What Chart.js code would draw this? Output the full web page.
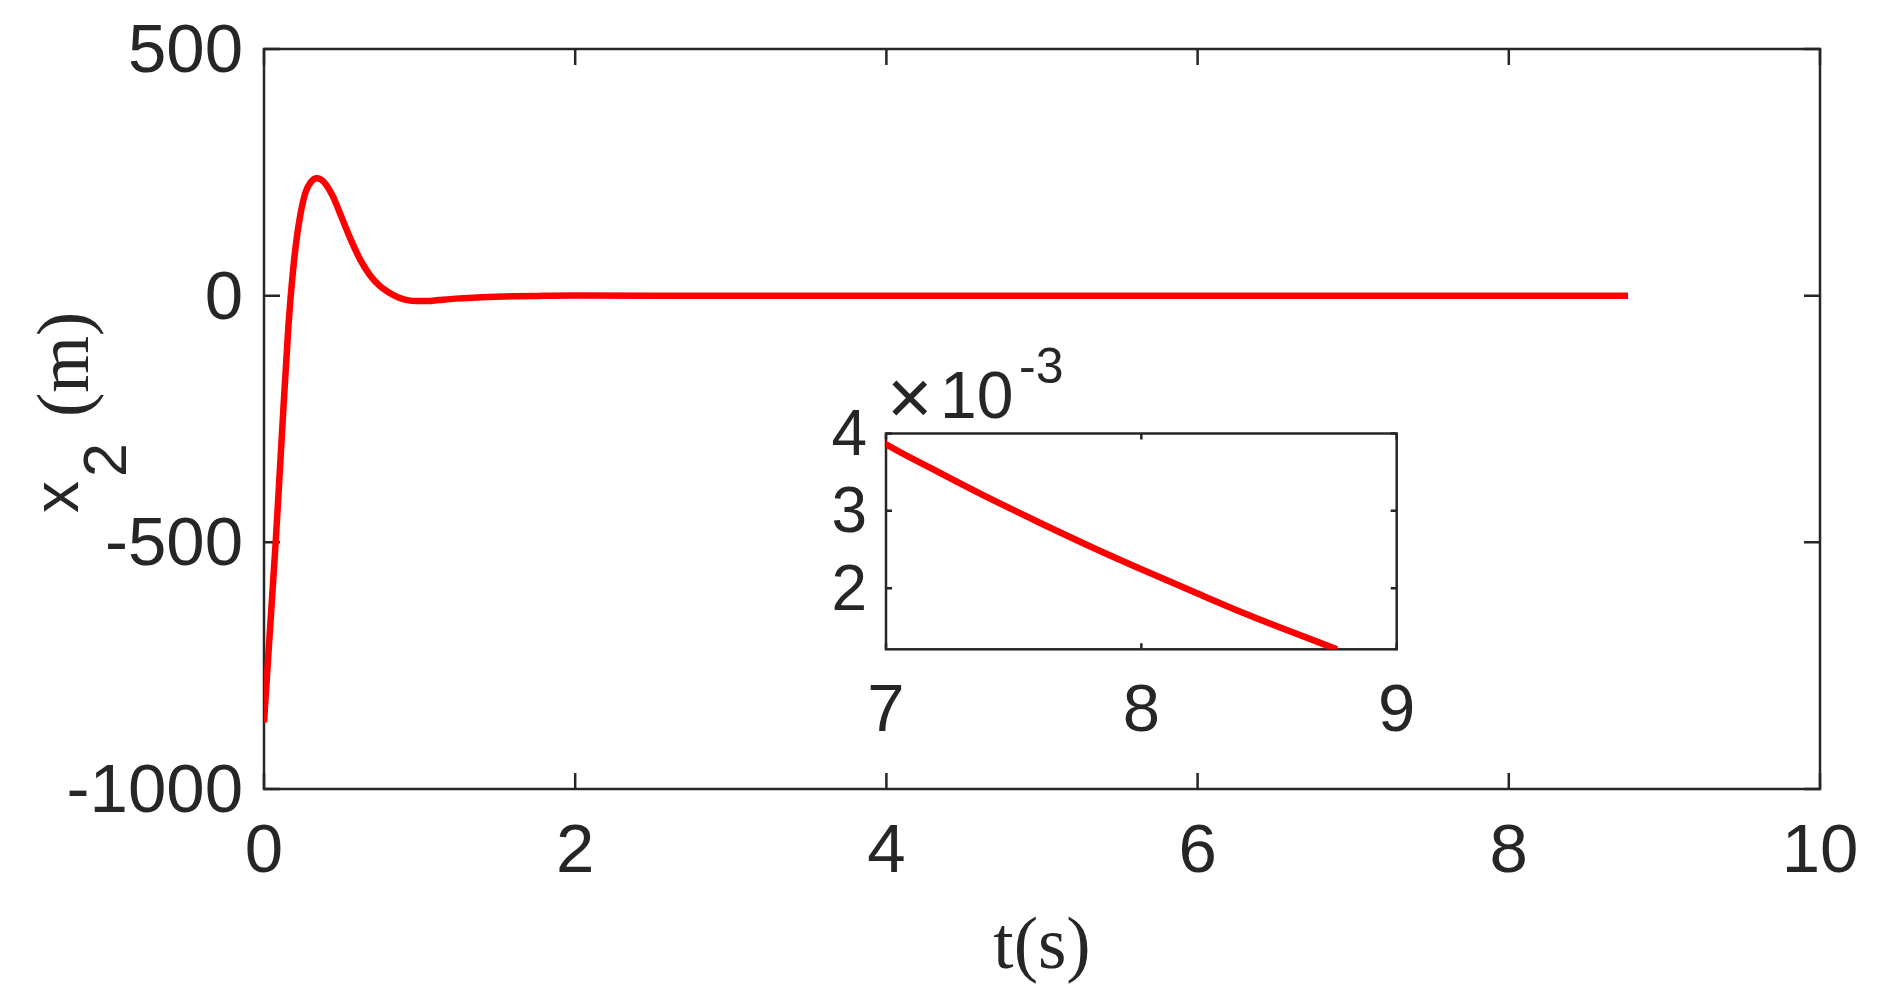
<!DOCTYPE html>
<html>
<head>
<meta charset="utf-8">
<script src="https://cdn.jsdelivr.net/npm/chart.js@4/dist/chart.umd.min.js"></script>
<style>
  html, body { margin: 0; padding: 0; background: #ffffff; overflow: hidden; width: 1888px; height: 1008px; }
  #main { position: absolute; left: 0; top: 0; }
  #inset { position: absolute; left: 760px; top: 330px; }
</style>
</head>
<body>
<canvas id="main" width="1888" height="1008"></canvas>
<canvas id="inset" width="680" height="430"></canvas>
<script>
// ---------------- data ----------------
const timeSeconds = [0, 0.049, 0.075, 0.114, 0.156, 0.188, 0.221, 0.264, 0.30, 0.339, 0.38, 0.44, 0.50, 0.56, 0.62, 0.68, 0.74, 0.80, 0.86, 0.92, 0.98, 1.05, 1.12, 1.23, 1.40, 1.60, 1.80, 2.0, 3.0, 4.0, 5.0, 6.0, 7.0, 7.2, 7.4, 7.6, 7.8, 8.0, 8.2, 8.4, 8.6, 8.766];
const x2Meters    = [-865, -625, -500, -287, -66, 55, 140, 207, 230, 238, 232, 203, 158, 112, 72, 42, 21, 7, -3, -9, -11, -11, -9, -6, -3, -1.2, -0.4, 0.1, 0.03, 0.015, 0.009, 0.006, 0.00386, 0.00351, 0.00317, 0.00285, 0.00254, 0.002245, 0.00196, 0.00168, 0.00142, 0.00121];

const mainXTicks = [0, 2, 4, 6, 8, 10];
const mainXTickLabels = ['0', '2', '4', '6', '8', '10'];
const mainYTicks = [-1000, -500, 0, 500];
const mainYTickLabels = ['-1000', '-500', '0', '500'];
const insetXTicks = [7, 8, 9];
const insetXTickLabels = ['7', '8', '9'];
const insetYTicks = [0.002, 0.003, 0.004];
const insetYTickLabels = ['2', '3', '4'];
const insetExponent = ['\u00D7', '10', '-3'];
const xTitleText = 't(s)';
const yTitleParts = ['x', '2', '(m)'];

// ---------------- styling ----------------
const INK = '#262626';
const SANS = '"Liberation Sans", Arial, Helvetica, sans-serif';
const SERIF = '"Liberation Serif", "Times New Roman", Times, serif';

const points = timeSeconds.map((t, i) => ({ x: t, y: x2Meters[i] }));

const framePlugin = {
  id: 'frame',
  beforeDatasetsDraw(chart, args, o) {
    const { ctx, chartArea: a } = chart;
    const xs = chart.scales.x, ys = chart.scales.y;
    ctx.save();
    ctx.strokeStyle = o.color;
    ctx.lineWidth = o.width;
    ctx.beginPath();
    xs.ticks.forEach(t => {
      const p = xs.getPixelForValue(t.value);
      ctx.moveTo(p, a.bottom); ctx.lineTo(p, a.bottom - o.tick);
      ctx.moveTo(p, a.top); ctx.lineTo(p, a.top + o.tick);
    });
    ys.ticks.forEach(t => {
      const p = ys.getPixelForValue(t.value);
      ctx.moveTo(a.left, p); ctx.lineTo(a.left + o.tick, p);
      ctx.moveTo(a.right, p); ctx.lineTo(a.right - o.tick, p);
    });
    ctx.stroke();
    ctx.strokeRect(a.left, a.top, a.right - a.left, a.bottom - a.top);
    ctx.restore();
  }
};

const yTitlePlugin = {
  id: 'ytitle',
  afterDraw(chart) {
    const ctx = chart.ctx;
    ctx.save();
    ctx.fillStyle = INK;
    ctx.textBaseline = 'alphabetic';
    ctx.textAlign = 'left';
    ctx.translate(78, 513);
    ctx.rotate(-Math.PI / 2);
    ctx.font = '64px ' + SANS;
    ctx.fillText(yTitleParts[0], 0, 0);
    ctx.font = '61px ' + SANS;
    ctx.fillText(yTitleParts[1], 36, 48);
    ctx.font = '73px ' + SERIF;
    ctx.fillText(yTitleParts[2], 96, 10);
    ctx.restore();
  }
};

const exponentPlugin = {
  id: 'exponent',
  afterDraw(chart) {
    const ctx = chart.ctx, a = chart.chartArea;
    ctx.save();
    ctx.fillStyle = INK;
    ctx.textBaseline = 'alphabetic';
    ctx.textAlign = 'left';
    ctx.font = '78px ' + SANS;
    ctx.fillText(insetExponent[0], a.left + 1, a.top - 10);
    ctx.font = '66px ' + SANS;
    ctx.fillText(insetExponent[1], a.left + 54, a.top - 15.5);
    ctx.font = '50px ' + SANS;
    ctx.fillText(insetExponent[2], a.left + 133, a.top - 50.5);
    ctx.restore();
  }
};

function fixedTicks(values) {
  return scale => { scale.ticks = values.map(v => ({ value: v })); };
}
function fitX(h) {
  return s => { s.height = h; s.paddingLeft = 0; s.paddingRight = 0; s.paddingTop = 0; s.paddingBottom = 0; };
}
function fitY(w) {
  return s => { s.width = w; s.paddingLeft = 0; s.paddingRight = 0; s.paddingTop = 0; s.paddingBottom = 0; };
}

const lineDataset = {
  data: points,
  borderColor: '#ff0000',
  borderWidth: 6.5,
  pointRadius: 0,
  fill: false,
  cubicInterpolationMode: 'monotone',
  borderJoinStyle: 'round',
  borderCapStyle: 'butt'
};

Chart.defaults.color = INK;

new Chart(document.getElementById('main'), {
  type: 'line',
  data: { datasets: [lineDataset] },
  plugins: [framePlugin, yTitlePlugin],
  options: {
    responsive: false,
    animation: false,
    events: [],
    layout: { padding: { top: 49, right: 68, left: 0, bottom: 0 } },
    plugins: { legend: { display: false }, tooltip: { enabled: false }, frame: { color: INK, width: 2.5, tick: 16 } },
    scales: {
      x: {
        type: 'linear', min: 0, max: 10,
        afterBuildTicks: fixedTicks(mainXTicks),
        afterFit: fitX(219),
        grid: { display: false, drawTicks: false },
        border: { display: false },
        ticks: { autoSkip: false, maxRotation: 0, padding: 23, color: INK, font: { family: SANS, size: 69 }, callback: (v, i) => mainXTickLabels[i] },
        title: { display: true, text: xTitleText, color: INK, font: { family: SERIF, size: 73, lineHeight: 1 }, padding: { top: 0, bottom: 23 } }
      },
      y: {
        type: 'linear', min: -1000, max: 500,
        afterBuildTicks: fixedTicks(mainYTicks),
        afterFit: fitY(264),
        grid: { display: false, drawTicks: false },
        border: { display: false },
        ticks: { autoSkip: false, padding: 21, labelOffset: 4, color: INK, font: { family: SANS, size: 69 }, callback: (v, i) => mainYTickLabels[i] }
      }
    }
  }
});

new Chart(document.getElementById('inset'), {
  type: 'line',
  data: { datasets: [Object.assign({}, lineDataset, { data: points })] },
  plugins: [framePlugin, exponentPlugin],
  options: {
    responsive: false,
    animation: false,
    events: [],
    layout: { padding: { top: 103.5, right: 43.3, left: 0, bottom: 0 } },
    plugins: { legend: { display: false }, tooltip: { enabled: false }, frame: { color: INK, width: 2.5, tick: 6 } },
    scales: {
      x: {
        type: 'linear', min: 7, max: 9,
        afterBuildTicks: fixedTicks(insetXTicks),
        afterFit: fitX(110.7),
        grid: { display: false, drawTicks: false },
        border: { display: false },
        ticks: { autoSkip: false, maxRotation: 0, padding: 23, color: INK, font: { family: SANS, size: 67 }, callback: (v, i) => insetXTickLabels[i] }
      },
      y: {
        type: 'linear', min: 0.00121, max: 0.004,
        afterBuildTicks: fixedTicks(insetYTicks),
        afterFit: fitY(126),
        grid: { display: false, drawTicks: false },
        border: { display: false },
        ticks: { autoSkip: false, padding: 19, labelOffset: 4, color: INK, font: { family: SANS, size: 64 }, callback: (v, i) => insetYTickLabels[i] }
      }
    }
  }
});
</script>
</body>
</html>
